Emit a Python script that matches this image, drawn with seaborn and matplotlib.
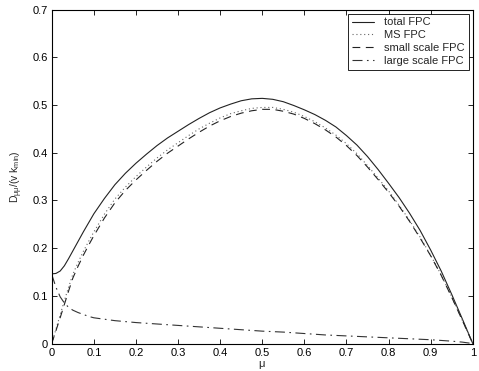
import matplotlib
matplotlib.use("Agg")
import matplotlib.pyplot as plt
import seaborn as sns
import pandas as pd

mu = [0, 0.01, 0.02, 0.03, 0.04, 0.05, 0.0625, 0.075, 0.0875, 0.1,
      0.125, 0.15, 0.175, 0.2, 0.225, 0.25, 0.275, 0.3, 0.325, 0.35,
      0.375, 0.4, 0.425, 0.45, 0.475, 0.5, 0.525, 0.55, 0.575, 0.6,
      0.625, 0.65, 0.675, 0.7, 0.725, 0.75, 0.775, 0.8, 0.825, 0.85,
      0.875, 0.9, 0.925, 0.95, 0.975, 1.0]
total_fpc = [0.146, 0.147, 0.152, 0.163, 0.178, 0.194, 0.214, 0.234, 0.253, 0.272,
             0.304, 0.333, 0.357, 0.378, 0.397, 0.415, 0.431, 0.445, 0.459, 0.472,
             0.484, 0.494, 0.502, 0.509, 0.513, 0.514, 0.512, 0.507, 0.499, 0.490,
             0.480, 0.468, 0.454, 0.436, 0.416, 0.392, 0.365, 0.336, 0.306, 0.273,
             0.237, 0.196, 0.152, 0.103, 0.052, 0.0]
ms_fpc = [0.0, 0.030, 0.060, 0.090, 0.118, 0.145, 0.170, 0.193, 0.214, 0.234,
          0.271, 0.303, 0.328, 0.350, 0.370, 0.389, 0.406, 0.421, 0.436, 0.450,
          0.462, 0.473, 0.482, 0.488, 0.493, 0.495, 0.495, 0.491, 0.485, 0.476,
          0.465, 0.452, 0.437, 0.419, 0.398, 0.373, 0.347, 0.320, 0.290, 0.258,
          0.223, 0.185, 0.144, 0.098, 0.049, 0.0]
small_fpc = [0.0, 0.027, 0.054, 0.082, 0.110, 0.137, 0.162, 0.185, 0.206, 0.226,
             0.263, 0.295, 0.321, 0.343, 0.363, 0.382, 0.399, 0.414, 0.429, 0.443,
             0.456, 0.467, 0.476, 0.483, 0.488, 0.491, 0.491, 0.487, 0.481, 0.472,
             0.461, 0.448, 0.433, 0.415, 0.394, 0.370, 0.344, 0.317, 0.288, 0.256,
             0.221, 0.184, 0.143, 0.097, 0.049, 0.0]
large_fpc = [0.145, 0.118, 0.098, 0.085, 0.076, 0.070, 0.065, 0.061, 0.057, 0.054,
             0.051, 0.048, 0.046, 0.044, 0.0425, 0.041, 0.0395, 0.038, 0.0365, 0.035,
             0.0335, 0.032, 0.0305, 0.029, 0.0275, 0.026, 0.025, 0.024, 0.0225, 0.021,
             0.0195, 0.018, 0.017, 0.016, 0.015, 0.014, 0.013, 0.012, 0.011, 0.010,
             0.009, 0.008, 0.0065, 0.005, 0.003, 0.0]

labels = ["total FPC", "MS FPC", "small scale FPC", "large scale FPC"]
series = [total_fpc, ms_fpc, small_fpc, large_fpc]
styles = ["-", (0, (1, 2.5)), (0, (7, 5)), (0, (9, 4, 1.5, 4))]
colors = ["#222222", "#666666", "#222222", "#333333"]

sns.set_style("ticks")
plt.rcParams["font.family"] = ["Liberation Sans", "DejaVu Sans"]
plt.rcParams["mathtext.fontset"] = "custom"
plt.rcParams["mathtext.rm"] = "Liberation Sans"
plt.rcParams["mathtext.it"] = "Liberation Sans"

fig = plt.figure(figsize=(4.79, 3.71), dpi=100)
ax = fig.add_axes([0.108, 0.074, 0.879, 0.900])

for lab, vals, ls, c in zip(labels, series, styles, colors):
    df = pd.DataFrame({"mu": mu, "D": vals})
    sns.lineplot(data=df, x="mu", y="D", ax=ax, linestyle=ls, color=c,
                 linewidth=0.8, label=lab, estimator=None, sort=False)

ax.set_xlim(0, 1)
ax.set_ylim(0, 0.7)
ax.set_xticks([0, 0.1, 0.2, 0.3, 0.4, 0.5, 0.6, 0.7, 0.8, 0.9, 1])
ax.set_xticklabels(["0", "0.1", "0.2", "0.3", "0.4", "0.5", "0.6", "0.7", "0.8", "0.9", "1"])
ax.set_yticks([0, 0.1, 0.2, 0.3, 0.4, 0.5, 0.6, 0.7])
ax.set_yticklabels(["0", "0.1", "0.2", "0.3", "0.4", "0.5", "0.6", "0.7"])
ax.tick_params(direction="in", top=True, right=True, labelsize=8, length=3.5,
               width=0.6, pad=3, colors="black")
for s in ax.spines.values():
    s.set_visible(True)
    s.set_linewidth(0.8)
    s.set_color("black")

ax.set_xlabel(r"$\mu$", fontsize=8, labelpad=1)
ax.set_ylabel(r"D$_{\mu\mu}$/(v k$_{\rm min}$)", fontsize=7.5, labelpad=5)

leg = ax.legend(loc="upper right", fontsize=8, frameon=True, fancybox=False,
                edgecolor="black", framealpha=1, handlelength=2.0,
                handletextpad=0.9, borderaxespad=0.35, labelspacing=0.25,
                borderpad=0.35)
leg.get_frame().set_linewidth(0.6)

fig.savefig("out.png", dpi=100)
